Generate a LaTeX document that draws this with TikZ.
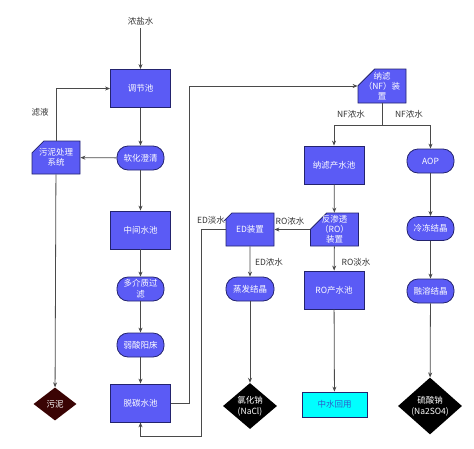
\documentclass[tikz,border=0pt]{standalone}
\usepackage{fontspec}
\newfontfamily\cjk{Noto Sans CJK SC}
\usetikzlibrary{arrows.meta,shapes.geometric,shapes.misc}
\definecolor{fillb}{HTML}{5B5BF5}
\definecolor{edgeb}{HTML}{23236E}
\definecolor{flowc}{HTML}{4A4A4A}
\definecolor{labc}{HTML}{333333}
\definecolor{cyanb}{HTML}{00FFFF}
\definecolor{bluet}{HTML}{2F5BC8}
\definecolor{mud}{HTML}{3A0404}
\tikzset{
  pool/.style={draw=edgeb, fill=fillb, text=white, line width=0.8pt, align=center, inner sep=1pt,
    minimum width=60pt, minimum height=38pt, font=\cjk\fontsize{8.5}{10.5}\selectfont},
  proc/.style={pool, rounded corners=11pt, minimum width=47pt, minimum height=24pt},
  dev/.style={pool, chamfered rectangle, chamfered rectangle corners=north west,
    chamfered rectangle xsep=9pt, chamfered rectangle ysep=9pt, inner xsep=-6pt, inner ysep=-6pt,
    minimum width=48pt, minimum height=34pt, font=\cjk\fontsize{8.5}{10}\selectfont},
  prod/.style={diamond, fill=black, text=white, inner sep=0pt, align=center,
    font=\cjk\fontsize{8.5}{10.5}\selectfont},
  reuse/.style={pool, fill=cyanb, draw=edgeb, text=bluet, minimum width=65pt, minimum height=25pt},
  flow/.style={draw=flowc, line width=0.8pt, -{Stealth[length=5pt,width=4pt]}},
  lab/.style={text=labc, font=\cjk\fontsize{8.5}{10}\selectfont},
}
\begin{document}
\begin{tikzpicture}[x=1pt,y=-1pt]
  \useasboundingbox (0,0) rectangle (474,448);
  % left column
  \node[lab] (brine) at (140.5,21) {浓盐水};
  \node[pool] (tjc) at (140.5,88.5) {调节池};
  \node[proc] (rhcq) at (140.5,158) {软化澄清};
  \node[dev, minimum height=33pt] (wnxt) at (56,157.5) {污泥处理\\系统};
  \node[prod, fill=mud, minimum width=43pt, minimum height=33pt] (wn) at (55,404) {污泥};
  \node[pool] (zjsc) at (140.5,230) {中间水池};
  \node[proc] (djz) at (140.5,289) {多介质过\\滤};
  \node[proc] (rsyc) at (140.5,345) {弱酸阳床};
  \node[pool] (ttsc) at (140.5,403) {脱碳水池};
  % right part
  \node[dev] (nf) at (382,86) {纳滤\\（NF）装\\置};
  \node[pool] (nfcs) at (334,165) {纳滤产水池};
  \node[proc] (aop) at (430.5,161) {AOP};
  \node[dev, minimum height=33pt] (ro) at (334.5,229.5) {反渗透\\（RO）\\装置};
  \node[dev, minimum height=33pt] (ed) at (250,229.5) {ED装置};
  \node[proc] (ldjj) at (430.5,228.5) {冷冻结晶};
  \node[proc, minimum width=48pt] (zfjj) at (250,289) {蒸发结晶};
  \node[pool] (rocs) at (334,290) {RO产水池};
  \node[proc] (rrjj) at (430.5,291) {融溶结晶};
  \node[prod, minimum width=54pt, minimum height=46pt] (nacl) at (250,406) {氯化钠\\(NaCl)};
  \node[reuse] (zshy) at (334.5,404.5) {中水回用};
  \node[prod, minimum width=64pt, minimum height=46pt] (na2so4) at (430,406) {硫酸钠\\(Na2SO4)};
  \coordinate (up) at (189,86);
  \coordinate (split) at (382,125);
  \coordinate (back) at (201,436);
  % connectors
  \draw[flow] (brine) -- (tjc);
  \draw[flow] (tjc) -- (rhcq);
  \draw[flow] (rhcq) -- (wnxt);
  \draw[flow] (wnxt.north) |- (tjc.west);
  \draw[flow] (wnxt) -- (wn);
  \draw[flow] (rhcq) -- (zjsc);
  \draw[flow] (zjsc) -- (djz);
  \draw[flow] (djz) -- (rsyc);
  \draw[flow] (rsyc) -- (ttsc);
  \draw[flow] (ttsc.east) -| (up) -- (nf.west);
  \draw[flow] (nf.south) -- (split) -| (nfcs.north);
  \draw[flow] (split) -| (aop.north);
  \draw[flow] (nfcs) -- (ro);
  \draw[flow] (ro) -- (ed);
  \draw[flow] (ed.west) -| (back) -| (ttsc.south);
  \draw[flow] (ed) -- (zfjj);
  \draw[flow] (ro) -- (rocs);
  \draw[flow] (zfjj) -- (nacl);
  \draw[flow] (rocs) -- (zshy);
  \draw[flow] (aop) -- (ldjj);
  \draw[flow] (ldjj) -- (rrjj);
  \draw[flow] (rrjj) -- (na2so4);
  % labels
  \node[lab] (lfl) at (40,112) {滤液};
  \node[lab] (lnf1) at (351,114) {NF浓水};
  \node[lab] (lnf2) at (409,114) {NF浓水};
  \node[lab] (lrob) at (290,221) {RO浓水};
  \node[lab] (ledd) at (211,220) {ED淡水};
  \node[lab] (ledb) at (269,262) {ED浓水};
  \node[lab] (lrod) at (356,262) {RO淡水};
\end{tikzpicture}
\end{document}
